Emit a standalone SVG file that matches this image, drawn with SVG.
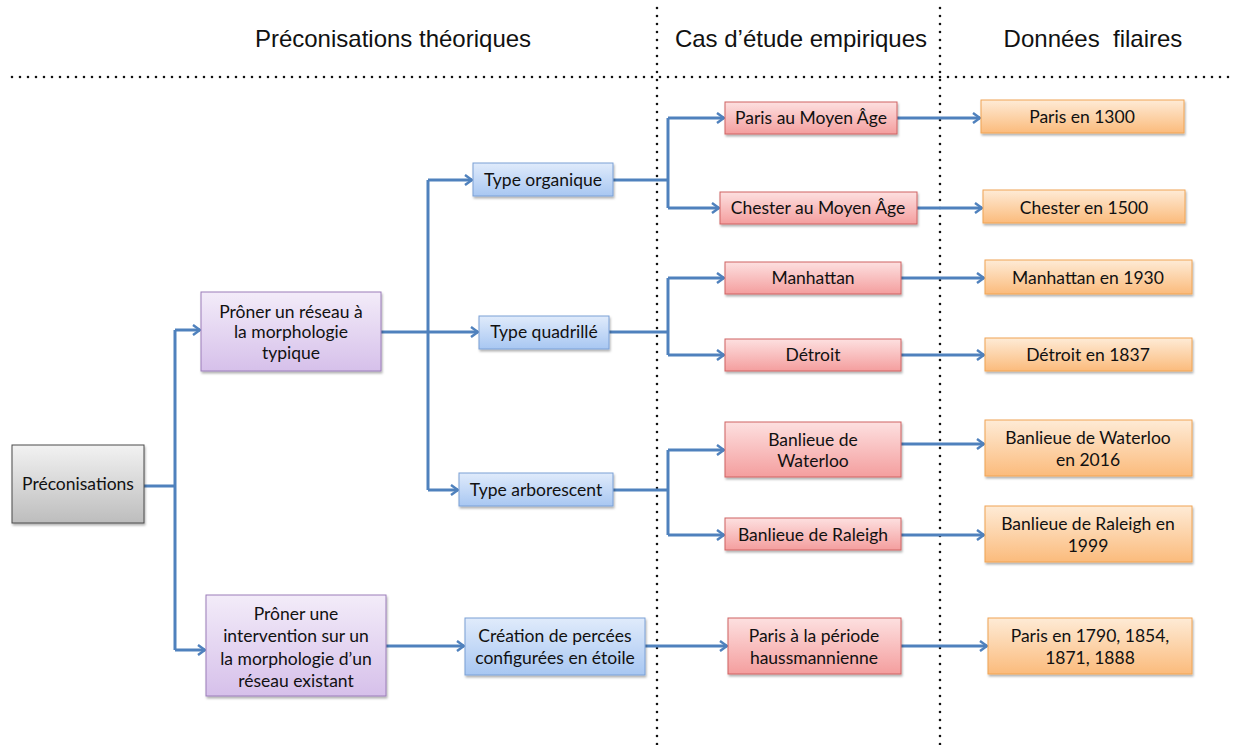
<svg xmlns="http://www.w3.org/2000/svg" width="1241" height="745" viewBox="0 0 1241 745">
<defs>
<linearGradient id="gGray" x1="0" y1="0" x2="0" y2="1"><stop offset="0" stop-color="#f2f2f2"/><stop offset="1" stop-color="#bdbdbd"/></linearGradient>
<linearGradient id="gPurple" x1="0" y1="0" x2="0" y2="1"><stop offset="0" stop-color="#f3ecf9"/><stop offset="1" stop-color="#d6c0ea"/></linearGradient>
<linearGradient id="gBlue" x1="0" y1="0" x2="0" y2="1"><stop offset="0" stop-color="#e0ebfb"/><stop offset="1" stop-color="#a8c7f2"/></linearGradient>
<linearGradient id="gRed" x1="0" y1="0" x2="0" y2="1"><stop offset="0" stop-color="#fde0e0"/><stop offset="1" stop-color="#f49e9e"/></linearGradient>
<linearGradient id="gOrange" x1="0" y1="0" x2="0" y2="1"><stop offset="0" stop-color="#feebd6"/><stop offset="1" stop-color="#fbbb7c"/></linearGradient>
<filter id="sh" x="-10%" y="-10%" width="120%" height="130%"><feDropShadow dx="1" dy="2" stdDeviation="1.2" flood-color="#000" flood-opacity="0.3"/></filter>
<marker id="arr" markerWidth="12" markerHeight="12" refX="10" refY="6" orient="auto" markerUnits="userSpaceOnUse"><polyline points="3,1 10,6 3,11" fill="none" stroke="#4f81bd" stroke-width="2.5" stroke-linejoin="miter"/></marker>
</defs>
<style>
.hdr{font-family:"Liberation Sans",Arial,sans-serif;font-size:24px;fill:#111;text-anchor:middle;white-space:pre}
.t{font-family:Lato,"Open Sans",sans-serif;font-size:17.5px;fill:#111;text-anchor:middle}
.dot{stroke:#111;stroke-width:2.6;stroke-linecap:round;stroke-dasharray:0 8;fill:none}
.c{fill:none;stroke:#4f81bd;stroke-width:3}
.a{fill:none;stroke:#4f81bd;stroke-width:3;marker-end:url(#arr)}
.gray{fill:url(#gGray);stroke:#4a4a4a;stroke-width:1}
.pur{fill:url(#gPurple);stroke:#9b7cb9;stroke-width:1}
.blu{fill:url(#gBlue);stroke:#7aa0d6;stroke-width:1}
.red{fill:url(#gRed);stroke:#cf6262;stroke-width:1}
.org{fill:url(#gOrange);stroke:#f0a455;stroke-width:1}
</style>
<rect width="1241" height="745" fill="#fff"/>
<g id="headers">
<text class="hdr" x="393" y="47">Préconisations théoriques</text>
<text class="hdr" x="801" y="47">Cas d’étude empiriques</text>
<text class="hdr" x="1093" y="47" xml:space="preserve">Données  filaires</text>
</g>
<g id="separators">
<line class="dot" x1="12" y1="77" x2="1236" y2="77"/>
<line class="dot" x1="657" y1="8" x2="657" y2="745"/>
<line class="dot" x1="940" y1="8" x2="940" y2="745"/>
</g>
<g id="connectors">
<path class="c" d="M144,486 H175 M175,330 V650"/>
<path class="a" d="M175,330 H200"/>
<path class="a" d="M175,650 H205"/>
<path class="c" d="M381,332 H428 M428,180 V490"/>
<path class="a" d="M428,180 H472"/>
<path class="a" d="M428,332 H478"/>
<path class="a" d="M428,490 H458"/>
<path class="a" d="M386,646 H464"/>
<path class="c" d="M613,180 H668 M668,118 V208"/>
<path class="a" d="M668,118 H724"/>
<path class="a" d="M668,208 H719"/>
<path class="c" d="M609,332 H668 M668,278 V355"/>
<path class="a" d="M668,278 H724"/>
<path class="a" d="M668,355 H724"/>
<path class="c" d="M613,490 H668 M668,450 V535"/>
<path class="a" d="M668,450 H724"/>
<path class="a" d="M668,535 H724"/>
<path class="a" d="M645,646 H727"/>
<path class="a" d="M897,118 H980"/>
<path class="a" d="M917,208 H982"/>
<path class="a" d="M901,278 H984"/>
<path class="a" d="M901,355 H984"/>
<path class="a" d="M901,444 H984"/>
<path class="a" d="M901,535 H984"/>
<path class="a" d="M901,646 H987"/>
</g>
<g id="n-preconisations"><rect class="gray" x="12" y="445" width="132" height="78" filter="url(#sh)"/><text class="t" x="78" y="490">Préconisations</text></g>
<g id="n-reseau"><rect class="pur" x="201" y="292" width="180" height="79" filter="url(#sh)"/><text class="t" x="291" y="318">Prôner un réseau à</text><text class="t" x="291" y="338">la morphologie</text><text class="t" x="291" y="359">typique</text></g>
<g id="n-intervention"><rect class="pur" x="206" y="595" width="180" height="101" filter="url(#sh)"/><text class="t" x="296" y="620">Prôner une</text><text class="t" x="296" y="642">intervention sur un</text><text class="t" x="296" y="665">la morphologie d’un</text><text class="t" x="296" y="687">réseau existant</text></g>
<g id="n-organique"><rect class="blu" x="473" y="163" width="140" height="33" filter="url(#sh)"/><text class="t" x="543" y="186">Type organique</text></g>
<g id="n-quadrille"><rect class="blu" x="479" y="316" width="130" height="33" filter="url(#sh)"/><text class="t" x="544" y="338">Type quadrillé</text></g>
<g id="n-arborescent"><rect class="blu" x="459" y="473" width="154" height="33" filter="url(#sh)"/><text class="t" x="536" y="496">Type arborescent</text></g>
<g id="n-percees"><rect class="blu" x="465" y="618" width="180" height="57" filter="url(#sh)"/><text class="t" x="555" y="642">Création de percées</text><text class="t" x="555" y="664">configurées en étoile</text></g>
<g id="n-paris-ma"><rect class="red" x="725" y="102" width="172" height="32" filter="url(#sh)"/><text class="t" x="811" y="124">Paris au Moyen Âge</text></g>
<g id="n-chester-ma"><rect class="red" x="720" y="192" width="197" height="32" filter="url(#sh)"/><text class="t" x="818" y="214">Chester au Moyen Âge</text></g>
<g id="n-manhattan"><rect class="red" x="725" y="262" width="176" height="32" filter="url(#sh)"/><text class="t" x="813" y="284">Manhattan</text></g>
<g id="n-detroit"><rect class="red" x="725" y="339" width="176" height="32" filter="url(#sh)"/><text class="t" x="813" y="361">Détroit</text></g>
<g id="n-waterloo"><rect class="red" x="725" y="422" width="176" height="55" filter="url(#sh)"/><text class="t" x="813" y="446">Banlieue de</text><text class="t" x="813" y="467">Waterloo</text></g>
<g id="n-raleigh"><rect class="red" x="725" y="518" width="176" height="32" filter="url(#sh)"/><text class="t" x="813" y="541">Banlieue de Raleigh</text></g>
<g id="n-haussmann"><rect class="red" x="728" y="618" width="173" height="56" filter="url(#sh)"/><text class="t" x="814" y="642">Paris à la période</text><text class="t" x="814" y="664">haussmannienne</text></g>
<g id="n-paris1300"><rect class="org" x="981" y="100" width="203" height="33" filter="url(#sh)"/><text class="t" x="1082" y="123">Paris en 1300</text></g>
<g id="n-chester1500"><rect class="org" x="983" y="190" width="202" height="33" filter="url(#sh)"/><text class="t" x="1084" y="214">Chester en 1500</text></g>
<g id="n-manhattan1930"><rect class="org" x="985" y="260" width="207" height="34" filter="url(#sh)"/><text class="t" x="1088" y="284">Manhattan en 1930</text></g>
<g id="n-detroit1837"><rect class="org" x="985" y="338" width="207" height="33" filter="url(#sh)"/><text class="t" x="1088" y="361">Détroit en 1837</text></g>
<g id="n-waterloo2016"><rect class="org" x="985" y="420" width="207" height="56" filter="url(#sh)"/><text class="t" x="1088" y="444">Banlieue de Waterloo</text><text class="t" x="1088" y="466">en 2016</text></g>
<g id="n-raleigh1999"><rect class="org" x="985" y="506" width="207" height="56" filter="url(#sh)"/><text class="t" x="1088" y="530">Banlieue de Raleigh en</text><text class="t" x="1088" y="552">1999</text></g>
<g id="n-paris1790"><rect class="org" x="988" y="618" width="204" height="56" filter="url(#sh)"/><text class="t" x="1090" y="642">Paris en 1790, 1854,</text><text class="t" x="1090" y="664">1871, 1888</text></g>
</svg>
